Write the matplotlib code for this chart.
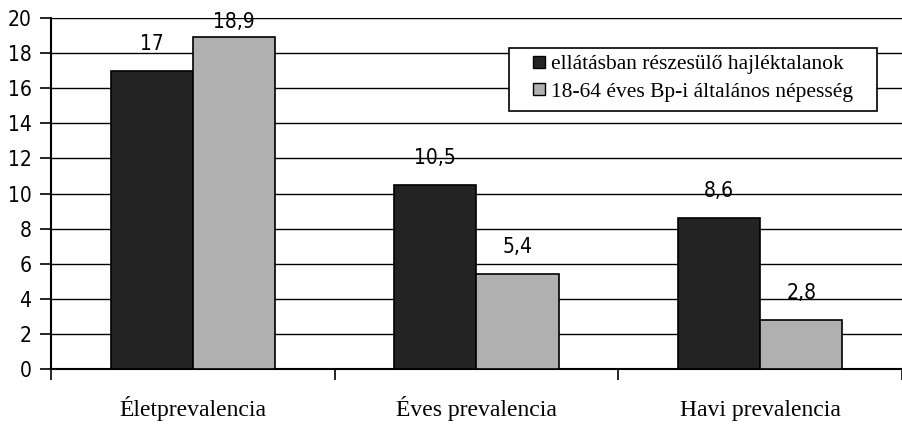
import numpy as np
import matplotlib
matplotlib.use("Agg")
import matplotlib.pyplot as plt
from matplotlib import font_manager
from matplotlib.lines import Line2D
from matplotlib.patches import Rectangle

categories = ["Életprevalencia", "Éves prevalencia", "Havi prevalencia"]
series_names = ["ellátásban részesülő hajléktalanok", "18-64 éves Bp-i általános népesség"]
homeless = [17, 10.5, 8.6]
population = [18.9, 5.4, 2.8]
y_ticks = [0, 2, 4, 6, 8, 10, 12, 14, 16, 18, 20]

names = {f.name for f in font_manager.fontManager.ttflist}
if "Liberation Sans Narrow" in names:
    narrow = dict(family="Liberation Sans Narrow")
else:
    narrow = dict(family="DejaVu Sans", stretch="condensed")
serif = "Liberation Serif"

W, H = 902, 425
fig = plt.figure(figsize=(W / 100, H / 100), dpi=100)
ax = fig.add_axes([51 / W, 1 - 369 / H, 1 - 51 / W, (369 - 18) / H])

x = np.arange(len(categories))
w = 0.29
colors = ["#232323", "#b0b0b0"]
ax.bar(x - w / 2, homeless, w, color=colors[0], edgecolor="black", linewidth=1.2, zorder=3)
ax.bar(x + w / 2, population, w, color=colors[1], edgecolor="black", linewidth=1.2, zorder=3)

def fmt(v):
    return f"{v:g}".replace(".", ",")

# value labels above the bars (the tallest one sits lower to stay inside the figure)
for xs, vals in ((x - w / 2, homeless), (x + w / 2, population)):
    for xi, v in zip(xs, vals):
        off = 7 if v > 18 else 15
        ax.annotate(fmt(v), (xi, v), xytext=(0, off), textcoords="offset points",
                    ha="center", va="baseline", fontsize=15, zorder=4, **narrow)

ax.set_xlim(-0.5, 2.5)
ax.set_ylim(0, 20)
ax.set_yticks(y_ticks)
ax.set_yticklabels([str(t) for t in y_ticks], fontsize=15, **narrow)
ax.grid(axis="y", color="black", linewidth=1.0, zorder=0)

ax.set_xticks([-0.5, 0.5, 1.5, 2.5])
ax.set_xticklabels([])
ax.set_xticks(x, minor=True)
ax.set_xticklabels(categories, minor=True, family=serif, fontsize=17, va="baseline")
ax.tick_params(axis="x", which="minor", length=0, pad=34)
ax.tick_params(axis="x", which="major", length=8, width=1.2, direction="out")
ax.tick_params(axis="y", length=8, width=1.2, direction="out", pad=6)

for s in ("top", "right"):
    ax.spines[s].set_visible(False)
ax.spines["left"].set_linewidth(1.5)
ax.spines["bottom"].set_linewidth(1.5)

# legend: square markers, frame drawn separately with wider side margins
handles = [Line2D([], [], ls="none", marker="s", markersize=8, markerfacecolor=c,
                  markeredgecolor="black", markeredgewidth=1.0) for c in colors]
leg = fig.legend(handles, series_names, loc="upper left",
                 bbox_to_anchor=(533 / W, 1 - 54 / H), frameon=False,
                 prop={"family": serif, "size": 15.5}, borderpad=0, borderaxespad=0,
                 handlelength=0.6, handletextpad=0.25, labelspacing=0.35)
leg.set_zorder(5)
fig.patches.append(Rectangle((509 / W, 1 - 111 / H), (877 - 509) / W, (111 - 48) / H,
                             transform=fig.transFigure, facecolor="white",
                             edgecolor="black", linewidth=1.2, zorder=4))

fig.savefig("out.png", dpi=100)
